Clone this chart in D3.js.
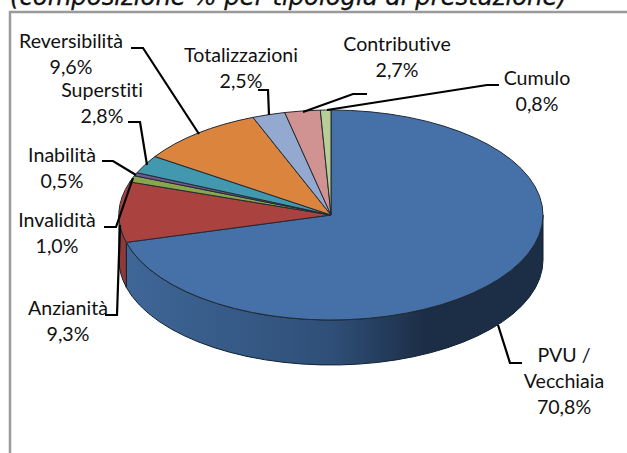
<!DOCTYPE html>
<html>
<head>
<meta http-equiv="Content-Type" content="text/html;charset=utf-8">
<script src="https://d3js.org/d3.v7.min.js"></script>
<style>
  body { margin: 0; background: #fff; }
  svg { display: block; }
  text { font-family: "Lato", "Open Sans", sans-serif; font-size: 19.6px; fill: #111; text-anchor: middle; font-variant-ligatures: none; }
</style>
</head>
<body>
<svg id="chart" width="627" height="453"></svg>
<script type="text/javascript">

var categories = ["PVU / Vecchiaia", "Anzianità", "Invalidità", "Inabilità", "Superstiti", "Reversibilità", "Totalizzazioni", "Contributive", "Cumulo"];
var shares = [70.8, 9.3, 1.0, 0.5, 2.8, 9.6, 2.5, 2.7, 0.8];
var shareLabels = ["70,8%", "9,3%", "1,0%", "0,5%", "2,8%", "9,6%", "2,5%", "2,7%", "0,8%"];
var sliceColors = ["#4571a8", "#aa4340", "#89a54e", "#71588f", "#4198af", "#db843d", "#93a9cf", "#d19392", "#b9cd96"];

var labelLines = [["PVU /", "Vecchiaia", "70,8%"]];
var labelBoxes = [[564, 362], [68, 315], [57, 227], [62, 162], [102, 97], [71, 48], [241, 62], [397, 51], [537, 85]];
var leaders = [
  [[498, 325], [510, 363], [522, 363]],
  [[120, 225], [117, 315], [105, 315]],
  [[133, 178], [116, 227], [104, 227]],
  [[136, 175], [113, 161], [102, 161]],
  [[147, 165], [140, 122], [128, 122]],
  [[199, 134], [143, 48], [131, 48]],
  [[269, 115], [268, 90], [258, 90]],
  [[303, 112], [353, 94], [367, 94]],
  [[327, 110], [487, 85], [499, 85]]
];

var cx = 331, cy = 215, rx = 212, ry = 105, depth = 45;
var k = ry / rx;

var svg = d3.select("#chart");

svg.append("text")
  .attr("x", 10).attr("y", 5)
  .style("text-anchor", "start")
  .style("font-family", "DejaVu Sans")
  .style("font-style", "oblique")
  .style("font-size", "24.3px")
  .style("stroke", "#111").style("stroke-width", 0.3)
  .text("(composizione % per tipologia di prestazione)");

svg.append("path")
  .attr("d", "M10,453V12H627")
  .attr("fill", "none").attr("stroke", "#9a9a9a").attr("stroke-width", 2.5);

var defs = svg.append("defs");
var wallBlue = defs.append("linearGradient").attr("id", "wallBlue")
  .attr("gradientUnits", "userSpaceOnUse")
  .attr("x1", -rx).attr("x2", rx).attr("y1", 0).attr("y2", 0);
wallBlue.append("stop").attr("offset", 0).attr("stop-color", "#3f6798");
wallBlue.append("stop").attr("offset", 0.5).attr("stop-color", "#2f4f78");
wallBlue.append("stop").attr("offset", 0.72).attr("stop-color", "#1c2e46");
wallBlue.append("stop").attr("offset", 1).attr("stop-color", "#1c2e46");

var pie = d3.pie().sort(null).value(function(d) { return d; });
var slices = pie(shares);
var arc = d3.arc().innerRadius(0).outerRadius(rx);

var g = svg.append("g").attr("transform", "translate(" + cx + "," + cy + ") scale(1," + k + ")");

// only the part of the rim facing the viewer is drawn
var wallColors = ["url(#wallBlue)", "#8f3a38"];
slices.slice(0, 2).forEach(function(s, i) {
  var a0 = Math.max(s.startAngle, Math.PI / 2) - Math.PI / 2;
  var a1 = Math.min(s.endAngle, Math.PI * 1.5) - Math.PI / 2;
  var p = d3.path();
  p.arc(0, 0, rx, a0, a1);
  p.arc(0, depth / k, rx, a1, a0, true);
  p.closePath();
  g.append("path").attr("d", p.toString())
    .attr("fill", wallColors[i])
    .attr("stroke", "#10202f").attr("stroke-width", 1)
    .attr("vector-effect", "non-scaling-stroke");
});

g.selectAll("path.slice").data(slices).enter().append("path")
  .attr("class", "slice")
  .attr("d", arc)
  .attr("fill", function(d, i) { return sliceColors[i]; })
  .attr("stroke", "#222a33").attr("stroke-width", 1)
  .attr("vector-effect", "non-scaling-stroke");

var line = d3.line();
svg.selectAll("path.leader").data(leaders).enter().append("path")
  .attr("class", "leader")
  .attr("d", line)
  .attr("fill", "none").attr("stroke", "#000").attr("stroke-width", 2.2);

categories.forEach(function(name, i) {
  var rows = i === 0 ? labelLines[0] : [name, shareLabels[i]];
  var t = svg.append("text").attr("x", labelBoxes[i][0]).attr("y", labelBoxes[i][1]);
  rows.forEach(function(r, j) {
    t.append("tspan").attr("x", labelBoxes[i][0]).attr("dy", j === 0 ? 0 : 26).text(r);
  });
});

</script>
</body>
</html>
